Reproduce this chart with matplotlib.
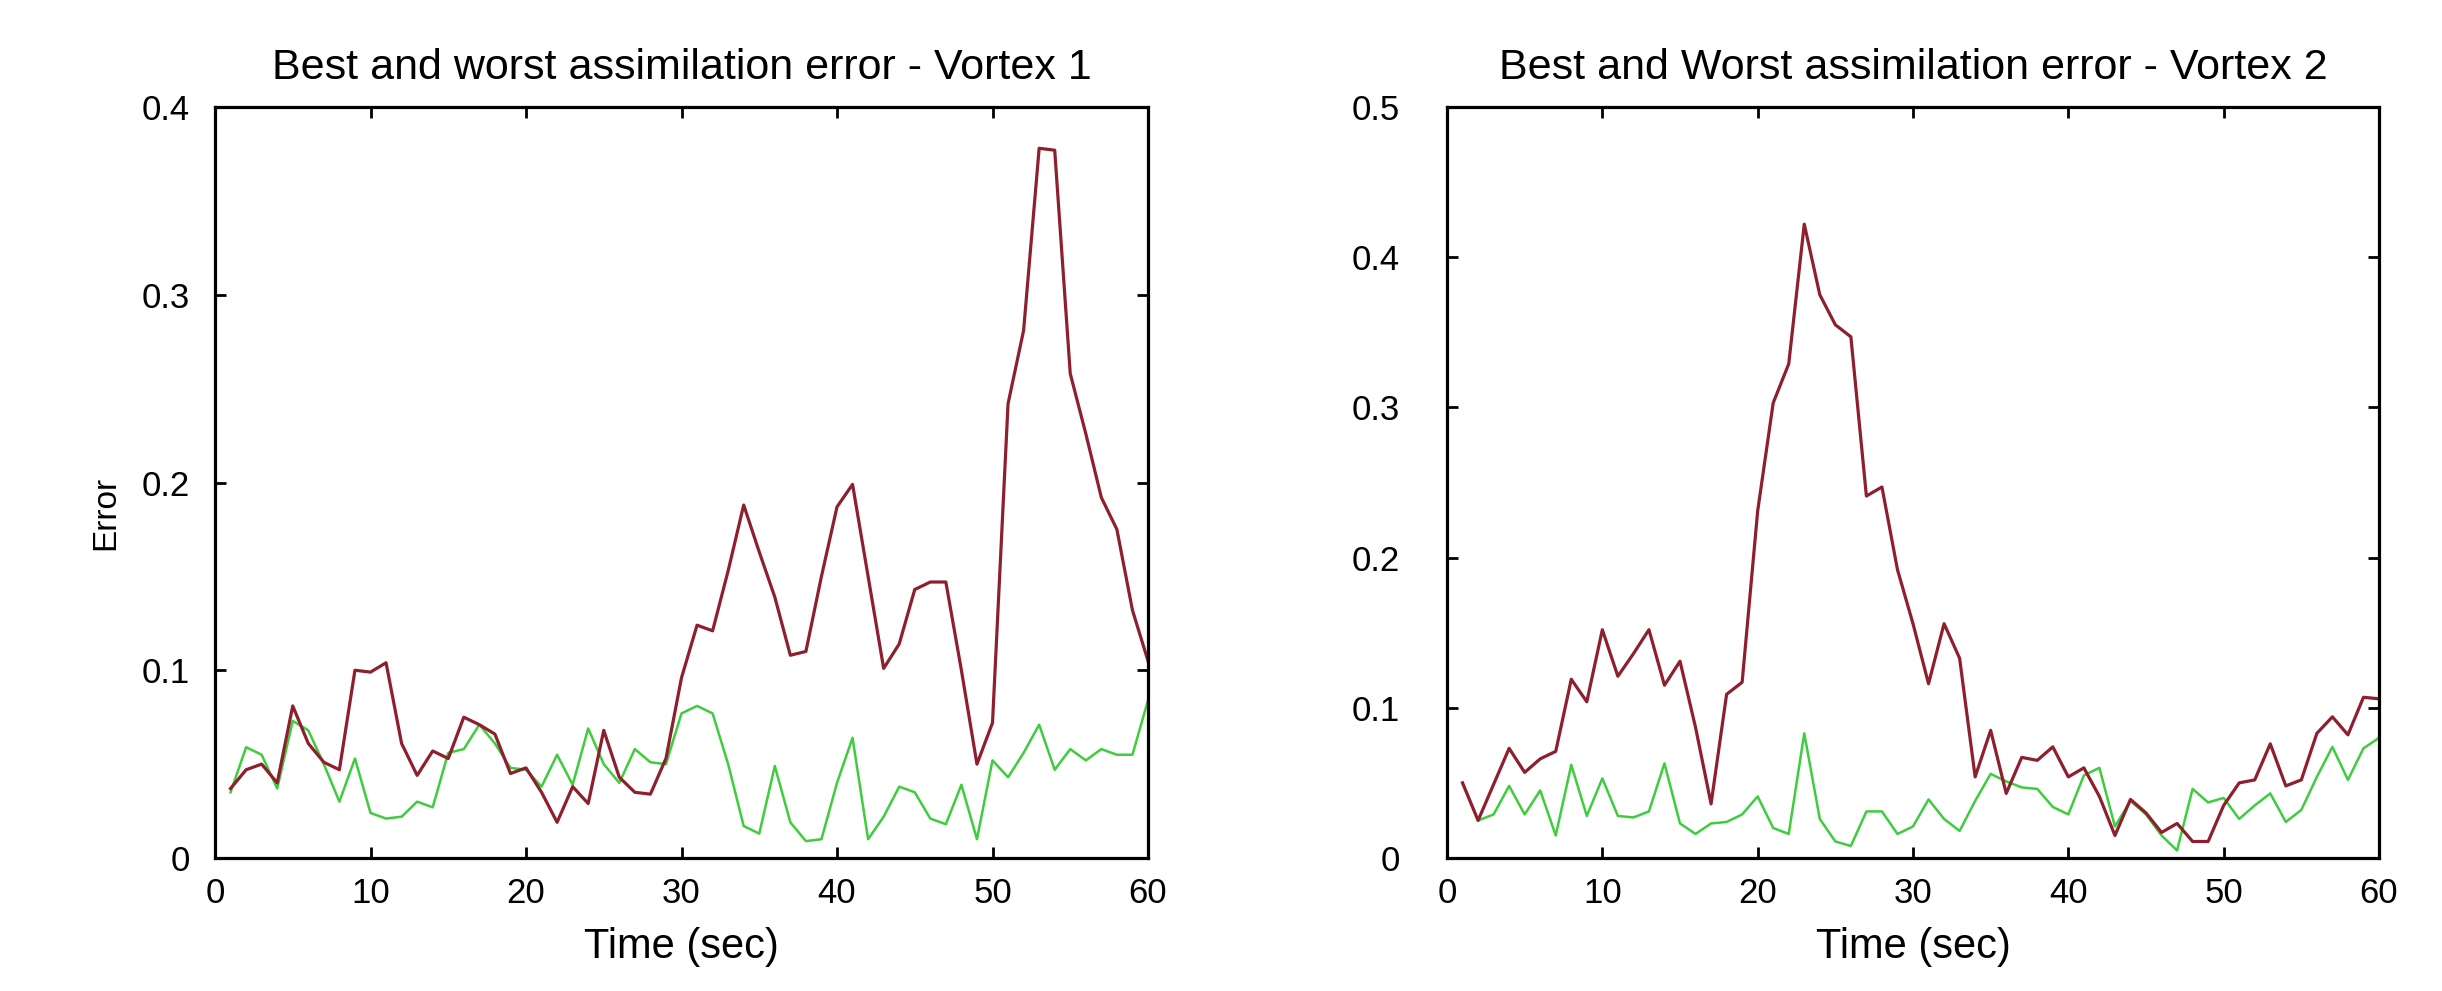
import matplotlib
matplotlib.use("Agg")
import matplotlib.pyplot as plt
import numpy as np

# ---- data ----
t = list(range(1, 61))

v1_worst = [0.037, 0.047, 0.050, 0.040, 0.081, 0.061, 0.051, 0.047, 0.100, 0.099,
            0.104, 0.061, 0.044, 0.057, 0.053, 0.075, 0.071, 0.066, 0.045, 0.048,
            0.035, 0.019, 0.038, 0.029, 0.068, 0.043, 0.035, 0.034, 0.053, 0.096,
            0.124, 0.121, 0.153, 0.188, 0.163, 0.139, 0.108, 0.110, 0.150, 0.187,
            0.199, 0.150, 0.101, 0.114, 0.143, 0.147, 0.147, 0.100, 0.050, 0.072,
            0.242, 0.281, 0.378, 0.377, 0.258, 0.226, 0.192, 0.175, 0.132, 0.105]

v1_best = [0.035, 0.059, 0.055, 0.037, 0.073, 0.068, 0.050, 0.030, 0.053, 0.024,
           0.021, 0.022, 0.030, 0.027, 0.056, 0.058, 0.071, 0.061, 0.048, 0.047,
           0.038, 0.055, 0.039, 0.069, 0.050, 0.040, 0.058, 0.051, 0.050, 0.077,
           0.081, 0.077, 0.050, 0.017, 0.013, 0.049, 0.019, 0.009, 0.010, 0.040,
           0.064, 0.010, 0.022, 0.038, 0.035, 0.021, 0.018, 0.039, 0.010, 0.052,
           0.043, 0.056, 0.071, 0.047, 0.058, 0.052, 0.058, 0.055, 0.055, 0.084]

v2_worst = [0.050, 0.025, 0.049, 0.073, 0.057, 0.066, 0.071, 0.119, 0.104, 0.152,
            0.121, 0.136, 0.152, 0.115, 0.131, 0.087, 0.036, 0.109, 0.117, 0.231,
            0.303, 0.329, 0.422, 0.375, 0.355, 0.347, 0.241, 0.247, 0.192, 0.156,
            0.116, 0.156, 0.133, 0.054, 0.085, 0.043, 0.067, 0.065, 0.074, 0.054,
            0.060, 0.041, 0.015, 0.039, 0.030, 0.017, 0.023, 0.011, 0.011, 0.035,
            0.050, 0.052, 0.076, 0.048, 0.052, 0.083, 0.094, 0.082, 0.107, 0.106]

v2_best = [0.050, 0.025, 0.029, 0.048, 0.029, 0.045, 0.015, 0.062, 0.028, 0.053,
           0.028, 0.027, 0.031, 0.063, 0.023, 0.016, 0.023, 0.024, 0.029, 0.041,
           0.020, 0.016, 0.083, 0.026, 0.011, 0.008, 0.031, 0.031, 0.016, 0.021,
           0.039, 0.026, 0.018, 0.038, 0.056, 0.051, 0.047, 0.046, 0.034, 0.029,
           0.055, 0.060, 0.021, 0.038, 0.029, 0.015, 0.005, 0.046, 0.037, 0.040,
           0.026, 0.035, 0.043, 0.024, 0.032, 0.054, 0.074, 0.052, 0.073, 0.080]

x_ticks = [0, 10, 20, 30, 40, 50, 60]
x_ticklabels = ['0', '10', '20', '30', '40', '50', '60']
y1_ticks = [0, 0.1, 0.2, 0.3, 0.4]
y1_ticklabels = ['0', '0.1', '0.2', '0.3', '0.4']
y2_ticks = [0, 0.1, 0.2, 0.3, 0.4, 0.5]
y2_ticklabels = ['0', '0.1', '0.2', '0.3', '0.4', '0.5']

title1 = 'Best and worst assimilation error - Vortex 1'
title2 = 'Best and Worst assimilation error - Vortex 2'
xlabel = 'Time (sec)'
ylabel = 'Error'

RED = '#8e1f2e'
GREEN = '#3fcc3f'

plt.rcParams['font.family'] = ['Liberation Sans Narrow', 'Liberation Sans', 'DejaVu Sans']

fig = plt.figure(figsize=(24.42, 9.91), dpi=100)
W, H = 2442, 991

def make_ax(left_px, right_px):
    top_px, bot_px = 107, 858
    return fig.add_axes([left_px / W, 1 - bot_px / H,
                         (right_px - left_px) / W, (bot_px - top_px) / H])

ax1 = make_ax(215, 1148)
ax2 = make_ax(1447, 2379)

def style(ax, yt, ytl, ymax, title, ypad):
    ax.set_xlim(0, 60)
    ax.set_ylim(0, ymax)
    ax.set_xticks(x_ticks)
    ax.set_xticklabels(x_ticklabels)
    ax.set_yticks(yt)
    ax.set_yticklabels(ytl)
    ax.tick_params(direction='in', length=8, width=2, top=True, right=True,
                   labelsize=25)
    ax.tick_params(axis='x', pad=14)
    ax.tick_params(axis='y', pad=ypad)
    for s in ax.spines.values():
        s.set_linewidth(2.3)
    ax.set_title(title, fontsize=31, pad=20)
    ax.set_xlabel(xlabel, fontsize=30, labelpad=12)

ax1.plot(t, v1_best, color=GREEN, lw=1.8)
ax1.plot(t, v1_worst, color=RED, lw=2.3)
style(ax1, y1_ticks, y1_ticklabels, 0.4, title1, 18)
ax1.set_ylabel(ylabel, fontsize=24)
ax1.yaxis.set_label_coords(-0.10, 0.46)

ax2.plot(t, v2_best, color=GREEN, lw=1.8)
ax2.plot(t, v2_worst, color=RED, lw=2.3)
style(ax2, y2_ticks, y2_ticklabels, 0.5, title2, 34)

fig.savefig('out.png', dpi=100)
